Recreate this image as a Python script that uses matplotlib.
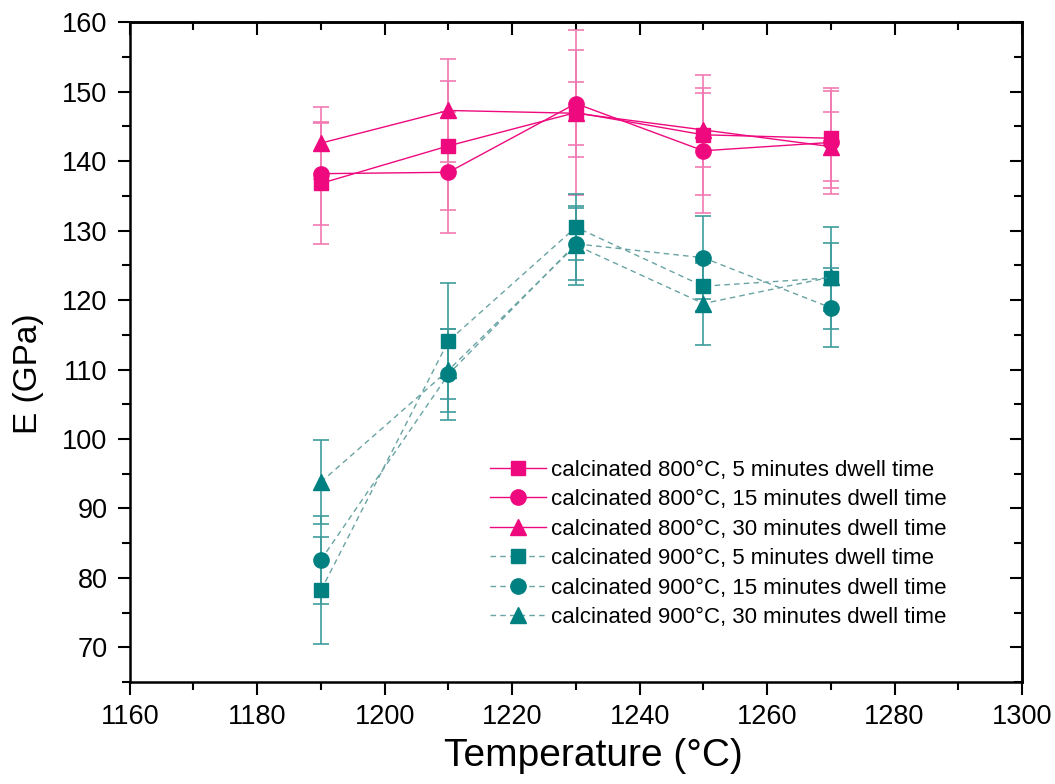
"""
Young's modulus vs sintering temperature, calcinated powders
"""
import numpy as np
import matplotlib
matplotlib.use("Agg")
from matplotlib import pyplot as plt
from matplotlib.ticker import MultipleLocator

plt.rcParams["font.family"] = ["Liberation Sans", "DejaVu Sans"]

temps = [1190, 1210, 1230, 1250, 1270]

# calcinated 800 C
e800_5 = [136.8, 142.2, 147.0, 143.8, 143.3]
e800_5_err = [8.7, 9.3, 11.9, 8.6, 7.2]
e800_15 = [138.2, 138.4, 148.3, 141.5, 142.7]
e800_15_err = [7.4, 8.7, 7.7, 9.0, 7.4]
e800_30 = [142.6, 147.3, 146.9, 144.5, 142.1]
e800_30_err = [5.2, 7.4, 4.5, 5.3, 5.0]

# calcinated 900 C
e900_5 = [78.2, 114.1, 130.5, 122.0, 123.2]
e900_5_err = [7.7, 8.4, 4.8, 3.6, 7.3]
e900_15 = [82.6, 109.3, 128.1, 126.1, 118.9]
e900_15_err = [6.3, 6.6, 5.2, 6.0, 5.7]
e900_30 = [93.8, 109.9, 127.9, 119.5, 123.3]
e900_30_err = [6.0, 6.0, 5.7, 5.9, 4.9]

labels = [
    "calcinated 800°C, 5 minutes dwell time",
    "calcinated 800°C, 15 minutes dwell time",
    "calcinated 800°C, 30 minutes dwell time",
    "calcinated 900°C, 5 minutes dwell time",
    "calcinated 900°C, 15 minutes dwell time",
    "calcinated 900°C, 30 minutes dwell time",
]

PINK = "#EE0A7E"
PINK_ERR = "#F27AB2"
TEAL = "#008080"
TEAL_ERR = "#3F9C9C"
TEAL_LINE = "#6AA3A3"

fig = plt.figure(figsize=(10.55, 7.84), dpi=100)
ax = fig.add_axes([0.123, 0.130, 0.8457, 0.8416])

series = [
    (e800_5, e800_5_err, "s", PINK, PINK, PINK_ERR, "-"),
    (e800_15, e800_15_err, "o", PINK, PINK, PINK_ERR, "-"),
    (e800_30, e800_30_err, "^", PINK, PINK, PINK_ERR, "-"),
    (e900_5, e900_5_err, "s", TEAL, TEAL_LINE, TEAL_ERR, (0, (4, 3))),
    (e900_15, e900_15_err, "o", TEAL, TEAL_LINE, TEAL_ERR, (0, (4, 3))),
    (e900_30, e900_30_err, "^", TEAL, TEAL_LINE, TEAL_ERR, (0, (4, 3))),
]

msizes = {"s": 10, "o": 11, "^": 11}
for (vals, errs, mk, mcol, lcol, ecol, ls), lab in zip(series, labels):
    ax.errorbar(temps, vals, yerr=errs, fmt="none", ecolor=ecol,
                elinewidth=1.2, capsize=6, capthick=1.2, zorder=2)
    ax.plot(temps, vals, linestyle=ls, color=lcol, linewidth=1.0,
            marker=mk, markersize=msizes[mk], markerfacecolor=mcol,
            markeredgecolor=mcol, label=lab, zorder=3)

ax.set_xlim(1160, 1300)
ax.set_ylim(65, 160)
ax.xaxis.set_major_locator(MultipleLocator(20))
ax.xaxis.set_minor_locator(MultipleLocator(10))
ax.yaxis.set_major_locator(MultipleLocator(10))
ax.yaxis.set_minor_locator(MultipleLocator(5))
ax.set_yticks(np.arange(70, 161, 10))

ax.tick_params(which="both", direction="out", width=1.5, labelsize=19.5, pad=7)
ax.tick_params(which="major", length=9)
ax.tick_params(which="minor", length=5.5)

# inward ticks on top and right
top = ax.secondary_xaxis("top")
top.xaxis.set_major_locator(MultipleLocator(20))
top.xaxis.set_minor_locator(MultipleLocator(10))
top.tick_params(which="both", direction="in", width=1.5, labeltop=False)
top.tick_params(which="major", length=9)
top.tick_params(which="minor", length=5.5)
right = ax.secondary_yaxis("right")
right.yaxis.set_major_locator(MultipleLocator(10))
right.yaxis.set_minor_locator(MultipleLocator(5))
right.tick_params(which="both", direction="in", width=1.5, labelright=False)
right.tick_params(which="major", length=9)
right.tick_params(which="minor", length=5.5)

for s in list(ax.spines.values()) + [top.spines["top"], right.spines["right"]]:
    s.set_linewidth(1.8)

ax.set_xlabel("Temperature (°C)", fontsize=28)
ax.set_ylabel("E (GPa)", fontsize=24)
ax.xaxis.set_label_coords(0.52, -0.084)
ax.yaxis.set_label_coords(-0.096, 0.467)

ax.legend(loc="upper left", bbox_to_anchor=(0.404, 0.337), frameon=False,
          fontsize=16, handlelength=2.5, handletextpad=0.25,
          labelspacing=0.38, borderpad=0, borderaxespad=0)

fig.savefig("out.png", dpi=100)
